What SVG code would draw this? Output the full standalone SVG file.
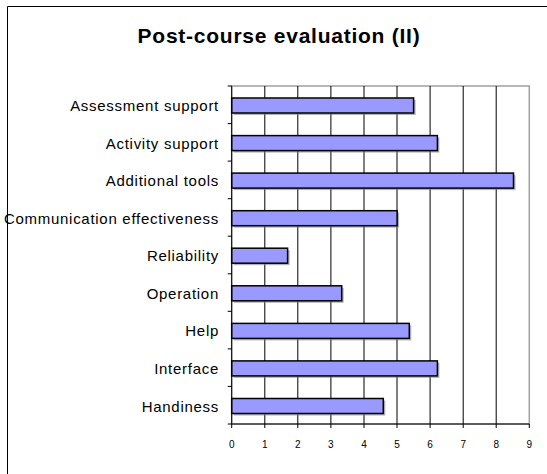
<svg xmlns="http://www.w3.org/2000/svg" width="547" height="474" viewBox="0 0 547 474">
<style>
.lbl{font-family:"Liberation Sans",Arial,sans-serif;font-size:15px;fill:#000;text-anchor:end;letter-spacing:0.72px}
.tick{font-family:"Liberation Sans",Arial,sans-serif;font-size:10px;fill:#000;text-anchor:middle}
.title{font-family:"Liberation Sans",Arial,sans-serif;font-size:21px;font-weight:bold;fill:#000;text-anchor:middle;letter-spacing:0.75px}
.bar{fill:#9999ff;stroke:#000;stroke-width:1.5}
.shadow{fill:#808080;opacity:0.6}
.grid{stroke:#000;stroke-width:1}
</style>
<rect x="0" y="0" width="547" height="474" fill="#fff"/>
<path d="M7.5 480 V6.5 H560" fill="none" stroke="#000" stroke-width="1"/>
<text class="title" x="279" y="43">Post-course evaluation (II)</text>
<g id="plot">
<rect x="231.7" y="86" width="297.6" height="338" fill="#fff" stroke="#a0a0a0" stroke-width="1.5"/>
<g class="grid">
<line x1="264.8" y1="86" x2="264.8" y2="424"/>
<line x1="297.8" y1="86" x2="297.8" y2="424"/>
<line x1="330.9" y1="86" x2="330.9" y2="424"/>
<line x1="364" y1="86" x2="364" y2="424"/>
<line x1="397" y1="86" x2="397" y2="424"/>
<line x1="430.1" y1="86" x2="430.1" y2="424"/>
<line x1="463.2" y1="86" x2="463.2" y2="424"/>
<line x1="496.2" y1="86" x2="496.2" y2="424"/>
</g>
</g>
<g id="bars">
<g id="bar-assessment"><rect class="shadow" x="233.7" y="100" width="181.9" height="15"/><rect class="bar" x="231.7" y="98" width="181.9" height="15"/></g>
<g id="bar-activity"><rect class="shadow" x="233.7" y="137.6" width="205.7" height="15"/><rect class="bar" x="231.7" y="135.6" width="205.7" height="15"/></g>
<g id="bar-additional"><rect class="shadow" x="233.7" y="175.1" width="281.8" height="15"/><rect class="bar" x="231.7" y="173.1" width="281.8" height="15"/></g>
<g id="bar-communication"><rect class="shadow" x="233.7" y="212.7" width="165.4" height="15"/><rect class="bar" x="231.7" y="210.7" width="165.4" height="15"/></g>
<g id="bar-reliability"><rect class="shadow" x="233.7" y="250.2" width="55.9" height="15"/><rect class="bar" x="231.7" y="248.2" width="55.9" height="15"/></g>
<g id="bar-operation"><rect class="shadow" x="233.7" y="287.8" width="110" height="15"/><rect class="bar" x="231.7" y="285.8" width="110" height="15"/></g>
<g id="bar-help"><rect class="shadow" x="233.7" y="325.4" width="177.6" height="15"/><rect class="bar" x="231.7" y="323.4" width="177.6" height="15"/></g>
<g id="bar-interface"><rect class="shadow" x="233.7" y="362.9" width="205.7" height="15"/><rect class="bar" x="231.7" y="360.9" width="205.7" height="15"/></g>
<g id="bar-handiness"><rect class="shadow" x="233.7" y="400.5" width="151.6" height="15"/><rect class="bar" x="231.7" y="398.5" width="151.6" height="15"/></g>
</g>
<g id="axes" stroke="#000" stroke-width="1">
<line x1="231.7" y1="86" x2="231.7" y2="424"/>
<line x1="231.7" y1="424" x2="529.3" y2="424"/>
<path d="M227.7 86H231.7M227.7 123.6H231.7M227.7 161.1H231.7M227.7 198.7H231.7M227.7 236.2H231.7M227.7 273.8H231.7M227.7 311.3H231.7M227.7 348.9H231.7M227.7 386.4H231.7M227.7 424H231.7"/>
<path d="M231.7 424V428M264.8 424V428M297.8 424V428M330.9 424V428M364 424V428M397 424V428M430.1 424V428M463.2 424V428M496.2 424V428M529.3 424V428"/>
</g>
<g id="labels">
<text class="lbl" x="219" y="111">Assessment support</text>
<text class="lbl" x="219" y="148.6">Activity support</text>
<text class="lbl" x="219" y="186.1">Additional tools</text>
<text class="lbl" x="219" y="223.7">Communication effectiveness</text>
<text class="lbl" x="219" y="261.2">Reliability</text>
<text class="lbl" x="219" y="298.8">Operation</text>
<text class="lbl" x="219" y="336.4">Help</text>
<text class="lbl" x="219" y="373.9">Interface</text>
<text class="lbl" x="219" y="411.5">Handiness</text>
</g>
<g id="ticks">
<text class="tick" x="231.7" y="448">0</text>
<text class="tick" x="264.8" y="448">1</text>
<text class="tick" x="297.8" y="448">2</text>
<text class="tick" x="330.9" y="448">3</text>
<text class="tick" x="364" y="448">4</text>
<text class="tick" x="397" y="448">5</text>
<text class="tick" x="430.1" y="448">6</text>
<text class="tick" x="463.2" y="448">7</text>
<text class="tick" x="496.2" y="448">8</text>
<text class="tick" x="529.3" y="448">9</text>
</g>
</svg>
